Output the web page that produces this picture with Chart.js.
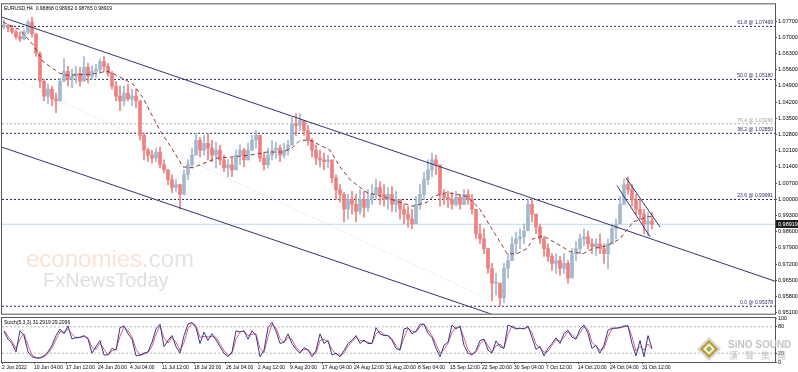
<!DOCTYPE html>
<html>
<head>
<meta charset="utf-8">
<title>EURUSD H4</title>
<script src="https://cdn.jsdelivr.net/npm/chart.js@4.4.1/dist/chart.umd.min.js"></script>
<style>
  body { margin: 0; background: #fff; }
  #wrap { position: relative; width: 798px; height: 372px; overflow: hidden; background: #fff; }
  #priceChart { position: absolute; left: 0; top: 0; }
  #stochChart { position: absolute; left: 0; top: 310px; }
</style>
</head>
<body>
<div id="wrap">
  <canvas id="priceChart" width="798" height="318"></canvas>
  <canvas id="stochChart" width="798" height="62"></canvas>
</div>
<script>
Chart.defaults.font.family = '"Liberation Sans", "DejaVu Sans", sans-serif';
Chart.defaults.color = "#000";

// ---- data ----
var priceTicks = [1.077, 1.070, 1.063, 1.056, 1.049, 1.042, 1.035, 1.028, 1.021, 1.014,
  1.007, 1.000, 0.993, 0.986, 0.979, 0.972, 0.965, 0.958, 0.951];

var timeLabels = ["2 Jun 2022", "10 Jun 04:00", "17 Jun 12:00", "24 Jun 20:00", "4 Jul 04:00",
  "11 Jul 12:00", "18 Jul 20:00", "26 Jul 04:00", "2 Aug 12:00", "9 Aug 20:00", "17 Aug 04:00",
  "24 Aug 12:00", "31 Aug 20:00", "8 Sep 04:00", "15 Sep 12:00", "22 Sep 20:00", "30 Sep 04:00",
  "7 Oct 12:00", "14 Oct 20:00", "24 Oct 04:00", "31 Oct 12:00"];

var ohlcHeader = [0.98868, 0.98962, 0.98765, 0.98919];

// one entry per 4 H4 bars
var hi = [1.0774,1.0757,1.0749,1.0732,1.0723,1.0732,1.0774,1.0787,1.0702,1.0638,
  1.0519,1.0498,1.0489,1.0459,1.0523,1.0608,1.0574,1.0561,1.0574,1.0570,
  1.0617,1.0587,1.0578,1.0583,1.0608,1.0617,1.0587,1.0553,1.0510,1.0489,
  1.0489,1.0498,1.0476,1.0476,1.0425,1.0285,1.0221,1.0212,1.0221,1.0225,
  1.0170,1.0127,1.0106,1.0085,1.0063,1.0127,1.0170,1.0221,1.0285,1.0268,
  1.0276,1.0285,1.0255,1.0246,1.0234,1.0191,1.0170,1.0178,1.0212,1.0234,
  1.0221,1.0242,1.0276,1.0297,1.0234,1.0204,1.0221,1.0255,1.0246,1.0234,
  1.0242,1.0255,1.0353,1.0370,1.0370,1.0340,1.0319,1.0263,1.0234,1.0212,
  1.0200,1.0191,1.0149,1.0106,1.0063,1.0029,1.0021,1.0034,1.0021,1.0042,
  1.0034,1.0042,1.0063,1.0085,1.0076,1.0063,1.0051,1.0055,1.0034,0.9999,
  0.9978,0.9970,0.9957,1.0012,1.0063,1.0115,1.0170,1.0200,1.0191,1.0127,
  1.0042,1.0034,1.0029,1.0034,1.0021,1.0042,1.0042,1.0021,0.9957,0.9893,
  0.9872,0.9787,0.9723,0.9680,0.9638,0.9723,0.9765,0.9838,0.9859,0.9872,
  0.9893,0.9999,0.9999,0.9936,0.9893,0.9838,0.9808,0.9765,0.9765,0.9753,
  0.9765,0.9735,0.9787,0.9817,0.9850,0.9872,0.9863,0.9829,0.9829,0.9850,
  0.9808,0.9829,0.9893,0.9914,1.0012,1.0085,1.0097,1.0063,1.0021,0.9999,
  0.9957,0.9944,0.9944];

var lo = [1.0736,1.0723,1.0715,1.0693,1.0681,1.0689,1.0715,1.0702,1.0617,1.0481,
  1.0425,1.0412,1.0404,1.0374,1.0425,1.0510,1.0489,1.0481,1.0502,1.0489,
  1.0510,1.0502,1.0519,1.0527,1.0544,1.0553,1.0532,1.0476,1.0425,1.0383,
  1.0404,1.0425,1.0404,1.0395,1.0255,1.0170,1.0162,1.0157,1.0162,1.0136,
  1.0115,1.0063,1.0029,1.0034,0.9957,1.0021,1.0085,1.0136,1.0191,1.0183,
  1.0191,1.0170,1.0162,1.0136,1.0149,1.0119,1.0098,1.0098,1.0127,1.0149,
  1.0140,1.0170,1.0212,1.0221,1.0162,1.0127,1.0136,1.0170,1.0178,1.0162,
  1.0178,1.0191,1.0234,1.0276,1.0297,1.0276,1.0234,1.0183,1.0149,1.0140,
  1.0127,1.0136,1.0072,0.9999,0.9987,0.9902,0.9914,0.9936,0.9902,0.9936,
  0.9923,0.9948,0.9978,0.9999,0.9978,0.9970,0.9957,0.9948,0.9944,0.9914,
  0.9893,0.9880,0.9872,0.9927,0.9957,0.9999,1.0063,1.0098,1.0106,0.9970,
  0.9978,0.9965,0.9957,0.9970,0.9957,0.9978,0.9978,0.9936,0.9829,0.9808,
  0.9765,0.9680,0.9561,0.9587,0.9540,0.9552,0.9659,0.9744,0.9765,0.9787,
  0.9808,0.9893,0.9902,0.9850,0.9808,0.9753,0.9731,0.9693,0.9680,0.9672,
  0.9680,0.9638,0.9680,0.9735,0.9765,0.9799,0.9787,0.9765,0.9757,0.9765,
  0.9723,0.9701,0.9808,0.9829,0.9893,0.9999,1.0021,0.9970,0.9936,0.9914,
  0.9850,0.9842,0.9872];

var cl = [1.0749,1.0740,1.0723,1.0702,1.0693,1.0723,1.0766,1.0715,1.0630,1.0510,
  1.0446,1.0476,1.0434,1.0425,1.0510,1.0553,1.0519,1.0532,1.0544,1.0510,
  1.0570,1.0532,1.0553,1.0561,1.0595,1.0574,1.0544,1.0489,1.0446,1.0425,
  1.0459,1.0434,1.0446,1.0425,1.0276,1.0212,1.0191,1.0178,1.0204,1.0149,
  1.0127,1.0085,1.0051,1.0063,1.0021,1.0106,1.0149,1.0191,1.0255,1.0212,
  1.0242,1.0221,1.0191,1.0212,1.0170,1.0136,1.0149,1.0127,1.0191,1.0212,
  1.0170,1.0212,1.0255,1.0276,1.0178,1.0149,1.0191,1.0212,1.0221,1.0191,
  1.0212,1.0234,1.0327,1.0319,1.0340,1.0297,1.0255,1.0212,1.0178,1.0170,
  1.0162,1.0170,1.0093,1.0042,1.0021,0.9957,0.9999,0.9978,0.9948,0.9999,
  0.9965,0.9999,1.0021,1.0051,1.0021,0.9999,1.0021,0.9978,0.9999,0.9957,
  0.9936,0.9914,0.9893,0.9978,1.0021,1.0085,1.0127,1.0170,1.0149,1.0021,
  1.0008,0.9999,0.9978,1.0008,0.9978,1.0021,0.9999,0.9957,0.9850,0.9829,
  0.9787,0.9701,0.9638,0.9638,0.9574,0.9701,0.9735,0.9808,0.9829,0.9838,
  0.9863,0.9978,0.9936,0.9880,0.9829,0.9787,0.9753,0.9723,0.9735,0.9701,
  0.9723,0.9659,0.9765,0.9787,0.9829,0.9838,0.9808,0.9795,0.9808,0.9787,
  0.9765,0.9808,0.9872,0.9893,0.9978,1.0063,1.0042,0.9999,0.9957,0.9936,
  0.9893,0.9906,0.98919];

// moving average (bar index, price)
var maIdx = [1,18,31,41,58,65,88,105,111,131,141,158,171,181,191,198,215,231,248,265,
  281,291,298,308,318,328,338,348,365,381,398,411,425,431,445,465,478,488,498,505,
  515,525,531,541,555,568,581,591,605,618,631,645,650];
var maVal = [1.0766,1.0732,1.0668,1.0595,1.0544,1.0536,1.0540,1.0553,1.0544,1.0498,
  1.0438,1.0297,1.0212,1.0140,1.0136,1.0149,1.0178,1.0183,1.0191,1.0204,
  1.0204,1.0225,1.0255,1.0255,1.0234,1.0212,1.0140,1.0085,1.0029,1.0012,
  0.9987,0.9970,0.9987,1.0012,1.0029,1.0012,0.9957,0.9885,0.9816,0.9765,
  0.9765,0.9787,0.9829,0.9842,0.9808,0.9774,0.9765,0.9787,0.9799,0.9829,
  0.9902,0.9923,0.9927];

var fibNames = ["61.8", "50.0", "76.4", "38.2", "23.6", "0.0"];
var fibLevels = [1.07469, 1.05180, 1.03266, 1.02850, 0.99991, 0.95378];

// drawn objects, [bar index, price] end points
var upperChannel = [[0, 1.0787], [773, 0.9646]];
var lowerChannel = [[0, 1.0225], [773, 0.9086]];
var faintTrend = [[8, 1.0527], [488, 0.9565]];
var wedgeUpper = [[624, 1.0093], [658, 0.9880]];
var wedgeLower = [[615, 1.0059], [648, 0.9838]];

// stochastic (5,3,3), one entry per 4 bars
var stochMain = [70,52,42,23,71,60,23,12,9,9,
  14,23,38,60,75,64,82,52,56,56,
  60,52,20,35,49,16,16,31,27,78,
  82,64,52,14,16,20,23,45,75,86,
  35,49,60,35,20,60,86,90,78,42,
  68,49,64,50,35,20,12,23,71,68,
  71,52,71,60,12,27,78,90,70,42,
  45,64,42,29,20,33,27,12,26,64,
  42,49,16,20,12,26,42,49,60,42,
  50,42,42,78,64,60,60,49,31,27,
  75,78,64,70,86,86,65,56,31,12,
  38,45,84,75,82,38,20,16,26,49,
  52,27,20,48,35,31,84,80,75,77,
  75,82,56,29,35,14,31,42,55,42,
  65,72,56,52,75,84,65,31,38,20,
  38,72,77,77,78,82,82,42,14,49,
  12,60,31];
var stochSignal = [72,59,46,31,52,64,38,16,10,9,
  12,19,32,51,69,68,75,64,54,56,
  58,55,33,29,43,29,16,25,29,58,
  80,71,57,29,15,18,22,36,63,82,
  55,43,56,45,26,44,76,88,83,56,
  58,57,58,56,41,26,15,19,52,69,
  70,60,63,64,31,21,58,85,78,53,
  44,56,51,34,24,28,29,18,20,49,
  51,46,29,18,15,20,36,46,56,49,
  47,45,42,64,70,62,60,53,38,28,
  55,77,70,68,80,86,73,60,41,20,
  28,42,68,79,79,56,27,18,22,40,
  51,37,23,37,40,33,63,82,77,76,
  76,79,66,40,33,22,24,38,50,47,
  56,69,62,54,66,80,73,45,35,27,
  31,58,75,77,78,80,82,58,25,35,
  27,41,29];
var stochInfo = [31.2919, 29.2096];
var stochLevels = [80, 20];
var stochTicks = [100, 80, 20, 0];

var barsPerSample = 4;
var barsPerLabel = 32;
var lastBar = 773;

var upColor = "#a3b8cd";
var downColor = "#ee8080";
var navy = "#34346e";

// ---- build datasets ----
var wicks = [], bodies = [], barColors = [];
for (var i = 0; i < cl.length; i++) {
  var x = i * barsPerSample + 2;
  var open = i > 0 ? cl[i - 1] : cl[0];
  wicks.push({ x: x, y: [lo[i], hi[i]] });
  bodies.push({ x: x, y: [Math.min(open, cl[i]), Math.max(open, cl[i])] });
  barColors.push(cl[i] >= open ? upColor : downColor);
}

function lineSet(points, color, dash, order) {
  return {
    type: "line",
    data: points.map(function (p) { return { x: p[0], y: p[1] }; }),
    borderColor: color,
    borderWidth: 1,
    borderDash: dash || [],
    pointRadius: 0,
    fill: false,
    tension: 0,
    order: order
  };
}

var priceSets = [];
fibLevels.forEach(function (lvl, i) {
  var c = fibNames[i] === "76.4" ? "#b4b4b4" : "#2a2a66";
  priceSets.push(lineSet([[0, lvl], [lastBar, lvl]], c, [2, 2], 10));
});
priceSets.push(lineSet([[0, ohlcHeader[3]], [lastBar, ohlcHeader[3]]], "#b9dcf2", [], 9));
priceSets.push(lineSet(faintTrend, "#d4d4d4", [1, 2], 9));
priceSets.push({
  type: "bar", data: wicks, backgroundColor: barColors, barThickness: 1,
  grouped: false, minBarLength: 1, order: 5
});
priceSets.push({
  type: "bar", data: bodies, backgroundColor: barColors, barThickness: 3,
  grouped: false, minBarLength: 1, order: 4
});
priceSets.push(lineSet(maIdx.map(function (v, i) { return [v, maVal[i]]; }), "#8a3a3a", [4, 3], 2));
priceSets.push(lineSet(upperChannel, navy, [], 1));
priceSets.push(lineSet(lowerChannel, navy, [], 1));
priceSets.push(lineSet(wedgeUpper, navy, [], 1));
priceSets.push(lineSet(wedgeLower, navy, [], 1));

var priceDecor = {
  id: "priceDecor",
  beforeDatasetsDraw: function (chart) {
    var ctx = chart.ctx;
    ctx.save();
    ctx.textBaseline = "alphabetic";
    ctx.font = '24px "Liberation Sans", Arial, sans-serif';
    ctx.fillStyle = "#fbe2d2";
    ctx.fillText("economies", 26, 267);
    var w = ctx.measureText("economies").width;
    ctx.fillStyle = "#e4e4e4";
    ctx.fillText(".com", 26 + w, 267);
    ctx.font = '20px "Liberation Sans", Arial, sans-serif';
    ctx.fillStyle = "#dfdfdf";
    ctx.fillText("FxNewsToday", 43, 287);
    ctx.restore();
  },
  afterDraw: function (chart) {
    var ctx = chart.ctx, a = chart.chartArea, ys = chart.scales.y;
    ctx.save();
    ctx.strokeStyle = "#555";
    ctx.lineWidth = 1;
    ctx.strokeRect(a.left - 0.5, a.top - 0.5, a.right - a.left + 1, a.bottom - a.top + 1);

    ctx.font = '5px "Liberation Sans", sans-serif';
    ctx.fillStyle = "#000";
    ctx.textBaseline = "top";
    ctx.fillText("EURUSD,H4  " + ohlcHeader.map(function (v) { return v.toFixed(5); }).join(" "), a.left + 2, a.top + 2);

    ctx.textAlign = "right";
    ctx.textBaseline = "bottom";
    fibLevels.forEach(function (lvl, i) {
      ctx.fillStyle = fibNames[i] === "76.4" ? "#a0a0a0" : "#2a2a66";
      ctx.fillText(fibNames[i] + " @ " + lvl.toFixed(5), a.right - 2, ys.getPixelForValue(lvl) - 1);
    });

    var py = ys.getPixelForValue(ohlcHeader[3]);
    ctx.fillStyle = "#1e1e1e";
    ctx.fillRect(a.right + 1, Math.round(py) - 4, 23, 8);
    ctx.fillStyle = "#fff";
    ctx.textAlign = "left";
    ctx.textBaseline = "middle";
    ctx.font = '5.5px "Liberation Sans", sans-serif';
    ctx.fillText(ohlcHeader[3].toFixed(5), a.right + 3, py);
    ctx.restore();
  }
};

new Chart(document.getElementById("priceChart"), {
  type: "bar",
  data: { datasets: priceSets },
  options: {
    responsive: false,
    animation: false,
    events: [],
    layout: { padding: { left: 2, top: 2, right: 0, bottom: 2 } },
    plugins: { legend: { display: false }, tooltip: { enabled: false } },
    scales: {
      x: { type: "linear", min: 0, max: lastBar, offset: false, display: false },
      y: {
        position: "right",
        min: 0.95056,
        max: 1.08424,
        afterBuildTicks: function (scale) {
          scale.ticks = priceTicks.map(function (v) { return { value: v }; });
        },
        afterFit: function (scale) { scale.width = 23; },
        ticks: {
          autoSkip: false, padding: 1, font: { size: 5.5 },
          callback: function (v) { return v.toFixed(5); }
        },
        grid: { drawOnChartArea: false, tickLength: 2, color: "#555" },
        border: { display: false }
      }
    }
  },
  plugins: [priceDecor]
});

// ---- stochastic pane ----
function stochPoints(arr) {
  return arr.map(function (v, i) { return { x: i * barsPerSample + 2, y: v }; });
}

var stochSets = [];
stochLevels.forEach(function (lvl) {
  stochSets.push(lineSet([[0, lvl], [lastBar, lvl]], "#b8b8b8", [2, 2], 5));
});
stochSets.push({
  data: stochPoints(stochSignal), borderColor: "#d8608a", borderWidth: 1,
  pointRadius: 0, fill: false, order: 2
});
stochSets.push({
  data: stochPoints(stochMain), borderColor: "#3a3a86", borderWidth: 1,
  pointRadius: 0, fill: false, order: 1
});

var stochDecor = {
  id: "stochDecor",
  afterDraw: function (chart) {
    var ctx = chart.ctx, a = chart.chartArea;
    ctx.save();
    ctx.strokeStyle = "#555";
    ctx.lineWidth = 1;
    ctx.strokeRect(a.left - 0.5, a.top - 0.5, a.right - a.left + 1, a.bottom - a.top + 1);

    ctx.font = '5px "Liberation Sans", sans-serif';
    ctx.fillStyle = "#000";
    ctx.textBaseline = "top";
    ctx.fillText("Stoch(5,3,3) " + stochInfo[0].toFixed(4) + " " + stochInfo[1].toFixed(4), a.left + 2, a.top + 2);

    // SINO SOUND watermark
    var cx = a.right - 66, cy = a.top + 31;
    function diamond(r, color) {
      ctx.beginPath();
      ctx.moveTo(cx, cy - r); ctx.lineTo(cx + r, cy); ctx.lineTo(cx, cy + r); ctx.lineTo(cx - r, cy);
      ctx.closePath();
      ctx.fillStyle = color;
      ctx.fill();
    }
    diamond(12, "#d6d6d6");
    diamond(9, "#b99a2e");
    diamond(6, "#efeedd");
    diamond(3, "#95ad48");
    ctx.font = 'bold 10px "Liberation Sans", sans-serif';
    ctx.textBaseline = "alphabetic";
    ctx.fillStyle = "rgba(190,190,190,0.9)";
    ctx.fillText("SiNO SOUND", a.right - 47, a.top + 30);
    ctx.font = '9px "Noto Sans CJK TC", sans-serif';
    ["漢", "聲", "集", "團"].forEach(function (ch, i) {
      ctx.fillText(ch, a.right - 46 + i * 16, a.top + 41);
    });
    ctx.restore();
  }
};

new Chart(document.getElementById("stochChart"), {
  type: "line",
  data: { datasets: stochSets },
  options: {
    responsive: false,
    animation: false,
    events: [],
    layout: { padding: { left: 2, top: 8, right: 0, bottom: 0 } },
    plugins: { legend: { display: false }, tooltip: { enabled: false } },
    scales: {
      x: {
        type: "linear", min: 0, max: lastBar, offset: false,
        afterBuildTicks: function (scale) {
          scale.ticks = timeLabels.map(function (t, i) { return { value: i * barsPerLabel }; });
        },
        afterFit: function (scale) { scale.height = 10; },
        ticks: {
          autoSkip: false, maxRotation: 0, align: "start", padding: 1, font: { size: 5 },
          callback: function (v, i) { return timeLabels[i]; }
        },
        grid: { drawOnChartArea: false, tickLength: 2, color: "#555" },
        border: { display: false }
      },
      y: {
        position: "right", min: 0, max: 100,
        afterBuildTicks: function (scale) {
          scale.ticks = stochTicks.map(function (v) { return { value: v }; });
        },
        afterFit: function (scale) { scale.width = 23; },
        ticks: { autoSkip: false, padding: 1, font: { size: 5.5 } },
        grid: { drawOnChartArea: false, tickLength: 2, color: "#555" },
        border: { display: false }
      }
    }
  },
  plugins: [stochDecor]
});
</script>
</body>
</html>
